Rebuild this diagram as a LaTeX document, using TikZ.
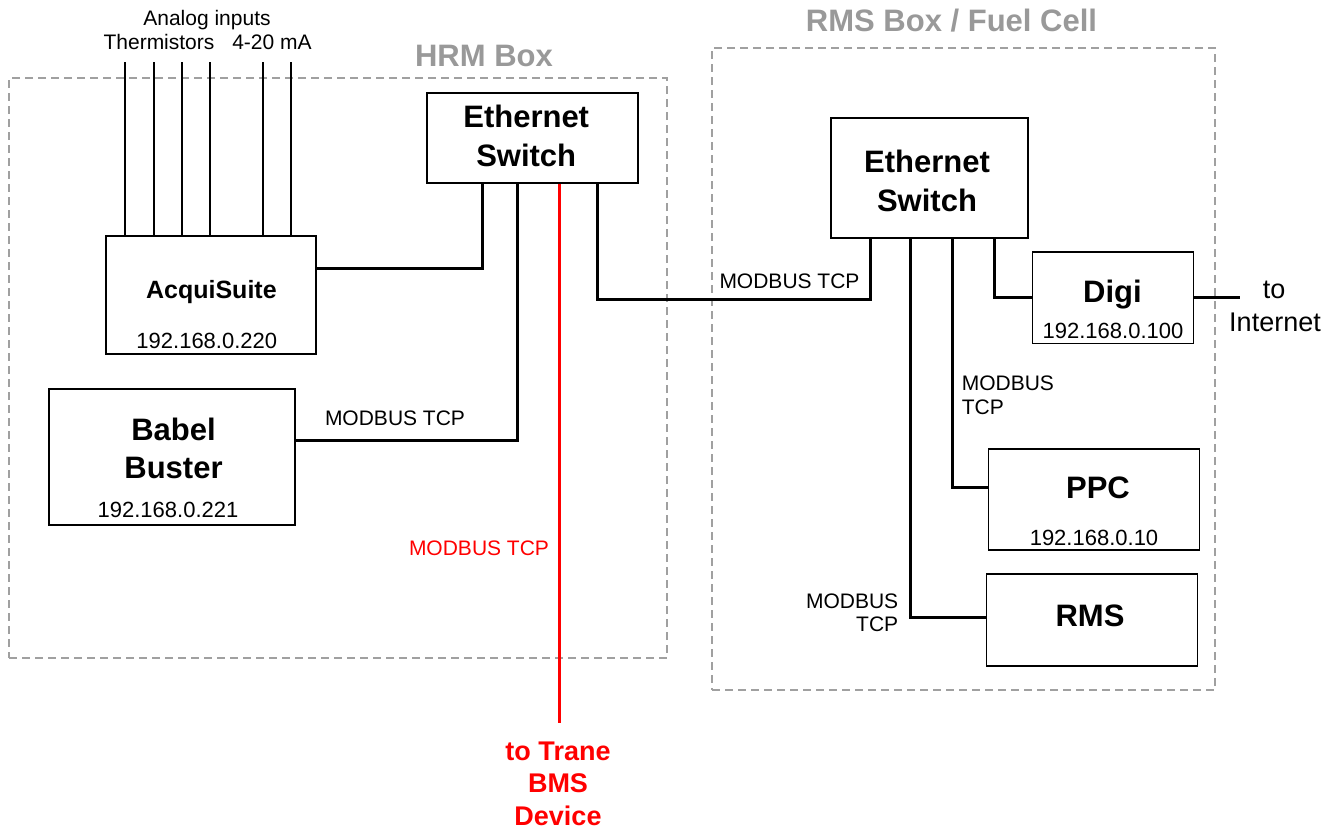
\documentclass[tikz,border=0pt]{standalone}
\usepackage{fontspec}
\setmainfont{Liberation Sans}
\definecolor{titlegray}{HTML}{999999}
\definecolor{dashgray}{HTML}{A0A0A0}
\definecolor{pured}{HTML}{FF0000}
\begin{document}
\begin{tikzpicture}[x=1pt,y=-1pt,
 box/.style={draw=black, line width=1.6pt, rectangle, inner sep=0pt},
 conn/.style={line width=3pt, black},
 redconn/.style={line width=3pt, pured},
 wire/.style={line width=2pt, black},
 grp/.style={draw=dashgray, line width=1.4pt, dash pattern=on 8pt off 5pt, rectangle, inner sep=0pt},
 big/.style={font=\fontsize{31}{31}\selectfont\bfseries, anchor=base, inner sep=0pt},
 mid/.style={font=\fontsize{25}{25}\selectfont\bfseries, anchor=base, inner sep=0pt},
 small/.style={font=\fontsize{21}{21}\selectfont, anchor=base, inner sep=0pt},
 ip/.style={font=\fontsize{22}{22}\selectfont, anchor=base, inner sep=0pt},
 title/.style={font=\fontsize{31}{31}\selectfont\bfseries, text=titlegray, anchor=base, inner sep=0pt},
 redbig/.style={font=\fontsize{27}{27}\selectfont\bfseries, text=pured, anchor=base, inner sep=0pt},
 inet/.style={font=\fontsize{27}{27}\selectfont, anchor=base, inner sep=0pt}
]
\useasboundingbox (0,0) rectangle (1341,830);

% group boxes
\node[grp, minimum width=658pt, minimum height=580pt] (hrm) at (338,368) {};
\node[grp, minimum width=503pt, minimum height=642pt] (rmsgrp) at (963.5,369) {};
\node[title] (hrmtitle) at (484,66.7) {HRM Box};
\node[title] (rmstitle) at (951.5,31.7) {RMS Box / Fuel Cell};

% device boxes
\node[box, minimum width=211pt, minimum height=90pt] (hsw) at (532.5,138) {};
\node[box, minimum width=210pt, minimum height=118pt] (acq) at (211,295) {};
\node[box, minimum width=246pt, minimum height=136pt] (babel) at (172,457) {};
\node[box, minimum width=197pt, minimum height=120pt] (rsw) at (929.5,178) {};
\node[box, minimum width=161pt, minimum height=91.6pt] (digi) at (1113,297.5) {};
\node[box, minimum width=211pt, minimum height=101pt] (ppc) at (1094,499.5) {};
\node[box, minimum width=211pt, minimum height=92pt] (rms) at (1092,620) {};

% analog input wires
\coordinate (a1) at (125.3,62);
\coordinate (a2) at (153.5,62);
\coordinate (a3) at (181.7,62);
\coordinate (a4) at (210.3,62);
\coordinate (a5) at (263.2,62);
\coordinate (a6) at (291.4,62);
\foreach \c in {a1,a2,a3,a4,a5,a6} \draw[wire] (\c) -- (\c |- acq.north);

% connectors
\draw[conn] ([xshift=-50.5pt]hsw.south) |- ([yshift=27pt]acq.east);
\draw[conn] ([xshift=-15.5pt]hsw.south) |- ([yshift=17pt]babel.east);
\coordinate (trane) at (559.5,723);
\draw[redconn] ([xshift=27pt]hsw.south) -- (trane |- hsw.south) -- (trane);
\draw[conn] ([xshift=64.5pt]hsw.south) |- ([xshift=-59pt,yshift=-61pt]rsw.south) -- ([xshift=-59pt]rsw.south);
\draw[conn] ([xshift=-19pt]rsw.south) |- ([yshift=3pt]rms.west);
\draw[conn] ([xshift=23pt]rsw.south) |- ([yshift=12pt]ppc.west);
\draw[conn] ([xshift=64.5pt]rsw.south) |- (digi.west);
\coordinate (inetend) at (1240,297.5);
\draw[conn] (digi.east) -- (inetend);

% texts
\node[small] (analog) at (207,25) {Analog inputs};
\node[small] (therm) at (159,49) {Thermistors};
\node[small] (ma) at (272,49) {4-20 mA};

\node[big] (hsw1) at (526.2,127) {Ethernet};
\node[big] (hsw2) at (526.2,166) {Switch};
\node[mid] (acqt) at (211.4,298) {AcquiSuite};
\node[ip] (acqip) at (206.8,348) {192.168.0.220};
\node[big] (bab1) at (173.5,440.7) {Babel};
\node[big] (bab2) at (173.5,478.3) {Buster};
\node[ip] (babip) at (168,517.3) {192.168.0.221};
\node[small] (mb1) at (395,425) {MODBUS TCP};
\node[small, text=pured] (mbred) at (479,555) {MODBUS TCP};
\node[redbig] (tr1) at (558,760) {to Trane};
\node[redbig] (tr2) at (558,792) {BMS};
\node[redbig] (tr3) at (558,825) {Device};

\node[big] (rsw1) at (927,172.7) {Ethernet};
\node[big] (rsw2) at (927,211) {Switch};
\node[small] (mb2) at (789.5,288) {MODBUS TCP};
\node[big] (digit) at (1112.5,302.7) {Digi};
\node[ip] (digiip) at (1113,338) {192.168.0.100};
\node[inet] (to) at (1274,298) {to};
\node[inet] (internet) at (1275,331.7) {Internet};
\node[small, anchor=base west] (mb3a) at (961.6,390) {MODBUS};
\node[small, anchor=base west] (mb3b) at (961.6,414) {TCP};
\node[big] (ppct) at (1098,498.3) {PPC};
\node[ip] (ppcip) at (1094,545) {192.168.0.10};
\node[big] (rmst) at (1090,626.7) {RMS};
\node[small, anchor=base east] (mb4a) at (898.4,608.3) {MODBUS};
\node[small, anchor=base east] (mb4b) at (898.4,631.7) {TCP};
\end{tikzpicture}
\end{document}
